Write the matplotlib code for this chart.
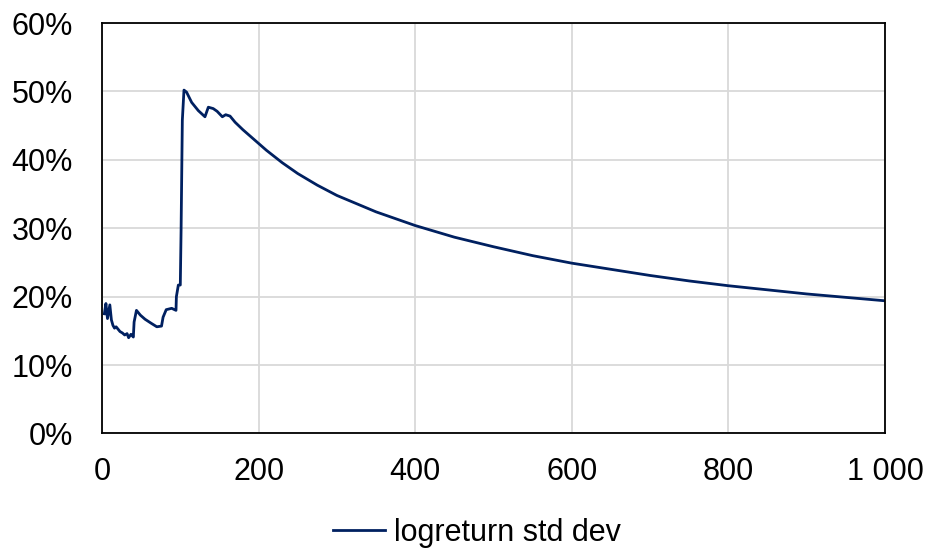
import matplotlib
matplotlib.use("Agg")
import matplotlib.pyplot as plt
from matplotlib.ticker import FuncFormatter, MultipleLocator

x_vals = [3, 5, 7, 10, 12, 14, 16, 18, 23, 26, 29, 32, 34, 37, 40, 41, 44, 49, 55, 63, 70, 76,
          78, 82, 89, 94.5, 95, 97.5, 100, 101, 102.6, 104.7, 108, 114.5, 123, 131.5,
          135.8, 142, 147, 153.7, 158, 163.5, 170, 180, 190, 200, 210, 220, 230, 250, 275,
          300, 350, 400, 450, 500, 550, 600, 650, 700, 750, 800, 850, 900, 950, 1000]
y_vals = [17.5, 19.0, 16.8, 18.8, 16.6, 15.8, 15.4, 15.6, 14.9, 14.7, 14.4, 14.6, 14.0, 14.5,
          14.1, 16.3, 18.0, 17.3, 16.7, 16.1, 15.6, 15.7, 17.0, 18.1, 18.3, 18.0, 20.0, 21.7,
          21.7, 29.7, 45.8, 50.2, 49.9, 48.4, 47.2, 46.3, 47.7, 47.5, 47.1, 46.3, 46.6, 46.4,
          45.5, 44.4, 43.4, 42.4, 41.4, 40.5, 39.6, 38.0, 36.3, 34.8, 32.4, 30.4, 28.7, 27.3,
          26.0, 24.9, 24.0, 23.1, 22.3, 21.6, 21.0, 20.4, 19.9, 19.4]
series_name = "logreturn std dev"

plt.rcParams['font.family'] = ['Liberation Sans', 'DejaVu Sans']

fig = plt.figure(figsize=(9.29, 5.49), dpi=100)
ax = fig.add_axes([0.1098, 0.2104, 0.8428, 0.7476])

line, = ax.plot(x_vals, [v / 100 for v in y_vals], color='#002060', lw=2.0,
                solid_joinstyle='round', label=series_name)

ax.set_xlim(0, 1000)
ax.set_ylim(0, 0.6)
ax.xaxis.set_major_locator(MultipleLocator(200))
ax.yaxis.set_major_locator(MultipleLocator(0.1))
ax.yaxis.set_major_formatter(FuncFormatter(lambda v, p: f"{v*100:.0f}%"))
ax.xaxis.set_major_formatter(FuncFormatter(lambda v, p: f"{int(round(v)):,}".replace(",", " ")))

ax.grid(True, color='#d9d9d9', lw=1.3)
ax.set_axisbelow(True)
for s in ax.spines.values():
    s.set_color('black')
    s.set_linewidth(1.3)
ax.tick_params(axis='both', length=0, labelsize=22, colors='black')
ax.tick_params(axis='y', pad=21)
ax.tick_params(axis='x', pad=17)

fig.legend(handles=[line], loc='center', bbox_to_anchor=(477 / 929, 1 - 533 / 549),
           frameon=False, fontsize=22, handlelength=1.7, handletextpad=0.3)

fig.savefig("out.png", dpi=100)
